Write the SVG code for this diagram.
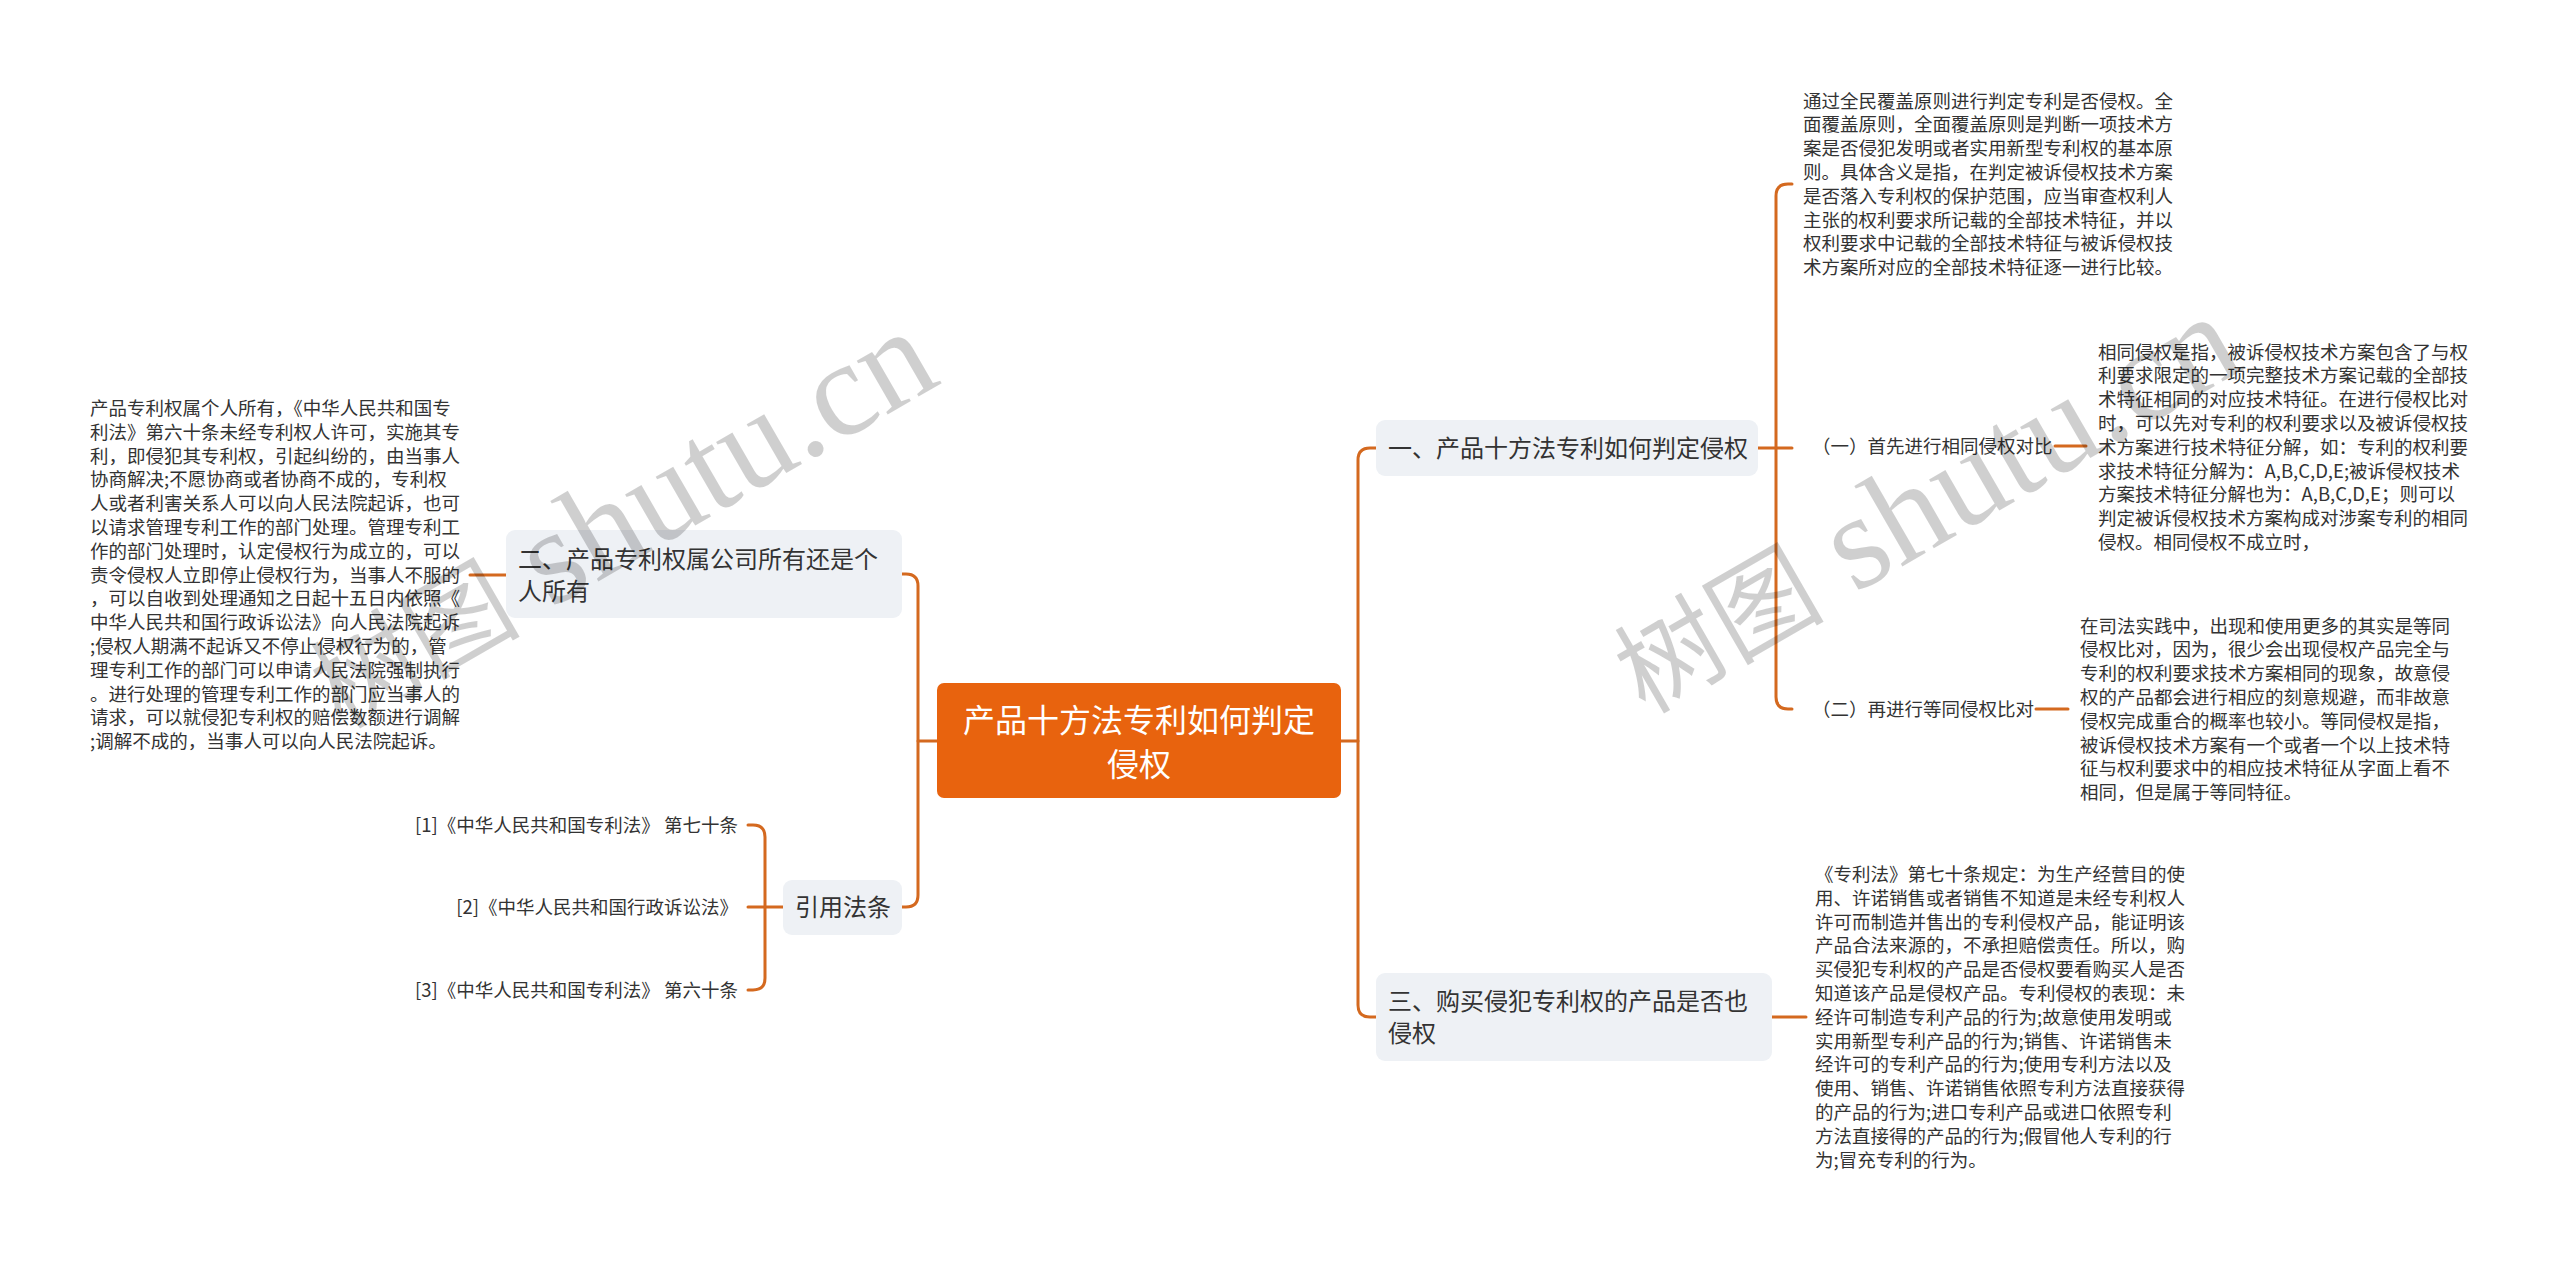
<svg xmlns="http://www.w3.org/2000/svg" width="2560" height="1264" viewBox="0 0 2560 1264">
<style>
text{font-family:"Noto Sans CJK SC","Noto Sans",sans-serif;fill:#333333}
.conn{fill:none;stroke:#D4691F;stroke-width:3;stroke-linecap:round;stroke-linejoin:round}
.node{fill:#EEF1F5}
.nt{font-size:24px}
.para{font-size:18.5px}
.lbl{font-size:18.5px}
.center-t{font-size:32px;fill:#FFFFFF}
.wm{fill:#000000;fill-opacity:0.19}
</style>
<rect x="0" y="0" width="2560" height="1264" fill="#FFFFFF"/>

<g id="connectors">
  <path class="conn" d="M1341,741 H1358"/>
  <path class="conn" d="M1376,448 H1370 Q1358,448 1358,460 V1005 Q1358,1017 1370,1017 H1376"/>
  <path class="conn" d="M937,741 H918"/>
  <path class="conn" d="M902,574 H906 Q918,574 918,586 V895 Q918,907 906,907 H902"/>
  <path class="conn" d="M506,575 H470"/>
  <path class="conn" d="M783,907 H748"/>
  <path class="conn" d="M748,825 H753 Q765,825 765,837 V978 Q765,990 753,990 H748"/>
  <path class="conn" d="M1758,448 H1792"/>
  <path class="conn" d="M1792,184 H1788 Q1776,184 1776,196 V697 Q1776,709 1788,709 H1792"/>
  <path class="conn" d="M2055,446 H2086"/>
  <path class="conn" d="M2036,709 H2068"/>
  <path class="conn" d="M1772,1017 H1806"/>
</g>

<g id="center">
  <rect x="937" y="683" width="404" height="115" rx="7" fill="#E8630E"/>
  <text class="center-t" x="1139" y="732" text-anchor="middle">产品十方法专利如何判定</text>
  <text class="center-t" x="1139" y="776" text-anchor="middle">侵权</text>
</g>

<g id="node1">
  <rect class="node" x="1376" y="420" width="382" height="56" rx="9"/>
  <text class="nt" x="1388" y="457">一、产品十方法专利如何判定侵权</text>
</g>

<g id="node1-leaf-top">
  <text class="para" x="1803" y="107.5">
    <tspan x="1803">通过全民覆盖原则进行判定专利是否侵权。全</tspan>
    <tspan x="1803" dy="23.8">面覆盖原则，全面覆盖原则是判断一项技术方</tspan>
    <tspan x="1803" dy="23.8">案是否侵犯发明或者实用新型专利权的基本原</tspan>
    <tspan x="1803" dy="23.8">则。具体含义是指，在判定被诉侵权技术方案</tspan>
    <tspan x="1803" dy="23.8">是否落入专利权的保护范围，应当审查权利人</tspan>
    <tspan x="1803" dy="23.8">主张的权利要求所记载的全部技术特征，并以</tspan>
    <tspan x="1803" dy="23.8">权利要求中记载的全部技术特征与被诉侵权技</tspan>
    <tspan x="1803" dy="23.8">术方案所对应的全部技术特征逐一进行比较。</tspan>
  </text>
</g>

<g id="node1-sub1">
  <text class="lbl" x="1812" y="452.5">（一）首先进行相同侵权对比</text>
</g>

<g id="node1-sub1-leaf">
  <text class="para" x="2098" y="358.5">
    <tspan x="2098">相同侵权是指，被诉侵权技术方案包含了与权</tspan>
    <tspan x="2098" dy="23.8">利要求限定的一项完整技术方案记载的全部技</tspan>
    <tspan x="2098" dy="23.8">术特征相同的对应技术特征。在进行侵权比对</tspan>
    <tspan x="2098" dy="23.8">时，可以先对专利的权利要求以及被诉侵权技</tspan>
    <tspan x="2098" dy="23.8">术方案进行技术特征分解，如：专利的权利要</tspan>
    <tspan x="2098" dy="23.8">求技术特征分解为：A,B,C,D,E;被诉侵权技术</tspan>
    <tspan x="2098" dy="23.8">方案技术特征分解也为：A,B,C,D,E；则可以</tspan>
    <tspan x="2098" dy="23.8">判定被诉侵权技术方案构成对涉案专利的相同</tspan>
    <tspan x="2098" dy="23.8">侵权。相同侵权不成立时，</tspan>
  </text>
</g>

<g id="node1-sub2">
  <text class="lbl" x="1812" y="715.5">（二）再进行等同侵权比对</text>
</g>

<g id="node1-sub2-leaf">
  <text class="para" x="2080" y="632.5">
    <tspan x="2080">在司法实践中，出现和使用更多的其实是等同</tspan>
    <tspan x="2080" dy="23.8">侵权比对，因为，很少会出现侵权产品完全与</tspan>
    <tspan x="2080" dy="23.8">专利的权利要求技术方案相同的现象，故意侵</tspan>
    <tspan x="2080" dy="23.8">权的产品都会进行相应的刻意规避，而非故意</tspan>
    <tspan x="2080" dy="23.8">侵权完成重合的概率也较小。等同侵权是指，</tspan>
    <tspan x="2080" dy="23.8">被诉侵权技术方案有一个或者一个以上技术特</tspan>
    <tspan x="2080" dy="23.8">征与权利要求中的相应技术特征从字面上看不</tspan>
    <tspan x="2080" dy="23.8">相同，但是属于等同特征。</tspan>
  </text>
</g>

<g id="node3">
  <rect class="node" x="1376" y="973" width="396" height="88" rx="9"/>
  <text class="nt" x="1388" y="1010">三、购买侵犯专利权的产品是否也</text>
  <text class="nt" x="1388" y="1042">侵权</text>
</g>

<g id="node3-leaf">
  <text class="para" x="1815" y="881">
    <tspan x="1815">《专利法》第七十条规定：为生产经营目的使</tspan>
    <tspan x="1815" dy="23.8">用、许诺销售或者销售不知道是未经专利权人</tspan>
    <tspan x="1815" dy="23.8">许可而制造并售出的专利侵权产品，能证明该</tspan>
    <tspan x="1815" dy="23.8">产品合法来源的，不承担赔偿责任。所以，购</tspan>
    <tspan x="1815" dy="23.8">买侵犯专利权的产品是否侵权要看购买人是否</tspan>
    <tspan x="1815" dy="23.8">知道该产品是侵权产品。专利侵权的表现：未</tspan>
    <tspan x="1815" dy="23.8">经许可制造专利产品的行为;故意使用发明或</tspan>
    <tspan x="1815" dy="23.8">实用新型专利产品的行为;销售、许诺销售未</tspan>
    <tspan x="1815" dy="23.8">经许可的专利产品的行为;使用专利方法以及</tspan>
    <tspan x="1815" dy="23.8">使用、销售、许诺销售依照专利方法直接获得</tspan>
    <tspan x="1815" dy="23.8">的产品的行为;进口专利产品或进口依照专利</tspan>
    <tspan x="1815" dy="23.8">方法直接得的产品的行为;假冒他人专利的行</tspan>
    <tspan x="1815" dy="23.8">为;冒充专利的行为。</tspan>
  </text>
</g>

<g id="node2">
  <rect class="node" x="506" y="530" width="396" height="88" rx="9"/>
  <text class="nt" x="518" y="568">二、产品专利权属公司所有还是个</text>
  <text class="nt" x="518" y="600">人所有</text>
</g>

<g id="node2-leaf">
  <text class="para" x="90" y="415">
    <tspan x="90">产品专利权属个人所有，《中华人民共和国专</tspan>
    <tspan x="90" dy="23.8">利法》第六十条未经专利权人许可，实施其专</tspan>
    <tspan x="90" dy="23.8">利，即侵犯其专利权，引起纠纷的，由当事人</tspan>
    <tspan x="90" dy="23.8">协商解决;不愿协商或者协商不成的，专利权</tspan>
    <tspan x="90" dy="23.8">人或者利害关系人可以向人民法院起诉，也可</tspan>
    <tspan x="90" dy="23.8">以请求管理专利工作的部门处理。管理专利工</tspan>
    <tspan x="90" dy="23.8">作的部门处理时，认定侵权行为成立的，可以</tspan>
    <tspan x="90" dy="23.8">责令侵权人立即停止侵权行为，当事人不服的</tspan>
    <tspan x="90" dy="23.8">，可以自收到处理通知之日起十五日内依照《</tspan>
    <tspan x="90" dy="23.8">中华人民共和国行政诉讼法》向人民法院起诉</tspan>
    <tspan x="90" dy="23.8">;侵权人期满不起诉又不停止侵权行为的，管</tspan>
    <tspan x="90" dy="23.8">理专利工作的部门可以申请人民法院强制执行</tspan>
    <tspan x="90" dy="23.8">。进行处理的管理专利工作的部门应当事人的</tspan>
    <tspan x="90" dy="23.8">请求，可以就侵犯专利权的赔偿数额进行调解</tspan>
    <tspan x="90" dy="23.8">;调解不成的，当事人可以向人民法院起诉。</tspan>
  </text>
</g>

<g id="node4">
  <rect class="node" x="783" y="880" width="119" height="55" rx="9"/>
  <text class="nt" x="795" y="916">引用法条</text>
</g>

<g id="cite1">
  <text class="lbl" x="738" y="831.5" text-anchor="end">[1]《中华人民共和国专利法》 第七十条</text>
</g>
<g id="cite2">
  <text class="lbl" x="738" y="913.5" text-anchor="end">[2]《中华人民共和国行政诉讼法》</text>
</g>
<g id="cite3">
  <text class="lbl" x="738" y="996.5" text-anchor="end">[3]《中华人民共和国专利法》 第六十条</text>
</g>

<g id="watermarks">
  <g transform="translate(341,730) rotate(-30)">
    <text class="wm"><tspan font-family="Noto Sans CJK SC" font-size="105" class="wm">树图</tspan><tspan font-family="Liberation Serif" font-size="135" dx="32" class="wm">shutu.cn</tspan></text>
  </g>
  <g transform="translate(1645,715) rotate(-30)">
    <text class="wm"><tspan font-family="Noto Sans CJK SC" font-size="105" class="wm">树图</tspan><tspan font-family="Liberation Serif" font-size="135" dx="32" class="wm">shutu.cn</tspan></text>
  </g>
</g>
</svg>
